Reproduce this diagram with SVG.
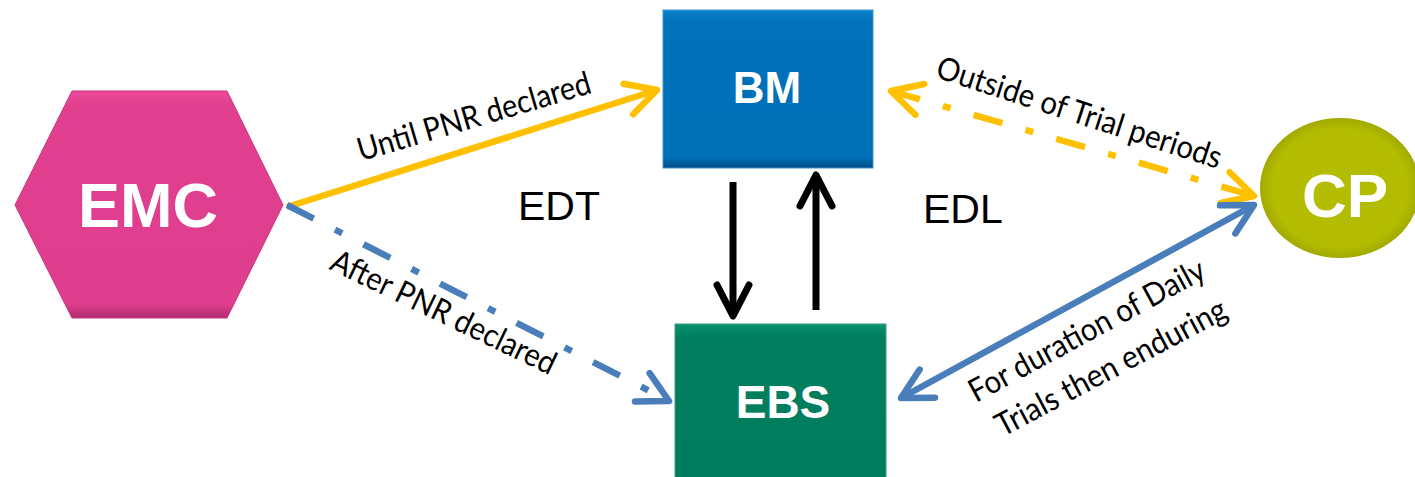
<svg xmlns="http://www.w3.org/2000/svg" width="1415" height="477" viewBox="0 0 1415 477">
<style>
.nodeText{font-family:"Liberation Sans",Arial,sans-serif;font-weight:bold;fill:#FFFFFF;text-anchor:middle}
.edgeText{font-family:Lato,"Open Sans",sans-serif;font-size:32px;fill:#000000;text-anchor:middle}
.bigText{font-family:"Liberation Sans",Arial,sans-serif;font-size:41px;fill:#000000}
.yellow{fill:none;stroke:#FFC000;stroke-width:6.5}
.blue{fill:none;stroke:#4A7EBB;stroke-width:6.5}
.black{fill:none;stroke:#000000;stroke-width:7}
.dashdot{stroke-dasharray:30 24 8 24}
</style>
<defs>
<linearGradient id="gEMC" x1="0" y1="0" x2="0" y2="1">
<stop offset="0" stop-color="#F04A9C"/><stop offset="0.06" stop-color="#E0408F"/><stop offset="0.94" stop-color="#DE3E8D"/><stop offset="1" stop-color="#B02C6E"/>
</linearGradient>
<linearGradient id="gBM" x1="0" y1="0" x2="0" y2="1">
<stop offset="0" stop-color="#0A80CC"/><stop offset="0.08" stop-color="#0072BA"/><stop offset="0.93" stop-color="#0070B7"/><stop offset="1" stop-color="#004E85"/>
</linearGradient>
<linearGradient id="gEBS" x1="0" y1="0" x2="0" y2="1">
<stop offset="0" stop-color="#0A9070"/><stop offset="0.08" stop-color="#007F5F"/><stop offset="1" stop-color="#007C5C"/>
</linearGradient>
<radialGradient id="gCP" cx="0.5" cy="0.5" r="0.5">
<stop offset="0.85" stop-color="#B3BC00"/><stop offset="1" stop-color="#A2AA00"/>
</radialGradient>
<marker id="ahY" markerUnits="userSpaceOnUse" markerWidth="50" markerHeight="50" viewBox="-40 -25 50 50" refX="-3" refY="0" orient="auto-start-reverse">
<path d="M-33,-16 L-3,0 L-33,16" fill="none" stroke="#FFC000" stroke-width="6.5" stroke-linecap="round" stroke-linejoin="round"/>
</marker>
<marker id="ahB" markerUnits="userSpaceOnUse" markerWidth="50" markerHeight="50" viewBox="-40 -25 50 50" refX="-3" refY="0" orient="auto-start-reverse">
<path d="M-33,-16 L-3,0 L-33,16" fill="none" stroke="#4A7EBB" stroke-width="6.5" stroke-linecap="round" stroke-linejoin="round"/>
</marker>
<marker id="ahK" markerUnits="userSpaceOnUse" markerWidth="50" markerHeight="50" viewBox="-40 -25 50 50" refX="-3" refY="0" orient="auto-start-reverse">
<path d="M-34,-16 L-3,0 L-34,16" fill="none" stroke="#000000" stroke-width="7" stroke-linecap="round" stroke-linejoin="round"/>
</marker>
</defs>
<rect x="0" y="0" width="1415" height="477" fill="#FFFFFF"/>

<g id="node-EMC">
<polygon points="15,205 72,91 227,91 283,205 227,318 72,318" fill="url(#gEMC)" stroke="#C9337D" stroke-width="1"/>
<text class="nodeText" x="148" y="227" font-size="63">EMC</text>
</g>
<g id="node-BM">
<rect x="663" y="10" width="210" height="158" fill="url(#gBM)" stroke="#3D95D0" stroke-width="1"/>
<text class="nodeText" x="767" y="103" font-size="44">BM</text>
</g>
<g id="node-EBS">
<rect x="675" y="324" width="211" height="160" fill="url(#gEBS)" stroke="#3AA080" stroke-width="1"/>
<text class="nodeText" x="783" y="418" font-size="46">EBS</text>
</g>
<g id="node-CP">
<ellipse cx="1340" cy="188" rx="80" ry="70" fill="url(#gCP)"/>
<text class="nodeText" x="1345" y="217" font-size="62">CP</text>
</g>

<g id="connectors">
<line class="yellow" x1="287" y1="207" x2="657" y2="90" marker-end="url(#ahY)"/>
<line class="blue dashdot" x1="287" y1="205" x2="669" y2="401" marker-end="url(#ahB)"/>
<line class="yellow dashdot" x1="891" y1="91" x2="1254" y2="196" marker-start="url(#ahY)" marker-end="url(#ahY)"/>
<line class="blue" x1="901" y1="398" x2="1254" y2="205" marker-start="url(#ahB)" marker-end="url(#ahB)"/>
<line class="black" x1="733" y1="182" x2="733" y2="316" marker-end="url(#ahK)"/>
<line class="black" x1="816" y1="310" x2="816" y2="175" marker-end="url(#ahK)"/>
</g>

<g id="labels">
<text class="edgeText" transform="translate(477,127) rotate(-16.5)" textLength="242" lengthAdjust="spacingAndGlyphs">Until PNR declared</text>
<text class="edgeText" transform="translate(439,322) rotate(25.7)" textLength="246" lengthAdjust="spacingAndGlyphs">After PNR declared</text>
<text class="edgeText" transform="translate(1076,123) rotate(18)" textLength="298" lengthAdjust="spacingAndGlyphs">Outside of Trial periods</text>
<text class="edgeText" transform="translate(1092,340) rotate(-28.5)" textLength="264" lengthAdjust="spacingAndGlyphs">For duration of Daily</text>
<text class="edgeText" transform="translate(1116,377) rotate(-28)" textLength="257" lengthAdjust="spacingAndGlyphs">Trials then enduring</text>
<text class="bigText" x="518" y="220">EDT</text>
<text class="bigText" x="923" y="223">EDL</text>
</g>
</svg>
